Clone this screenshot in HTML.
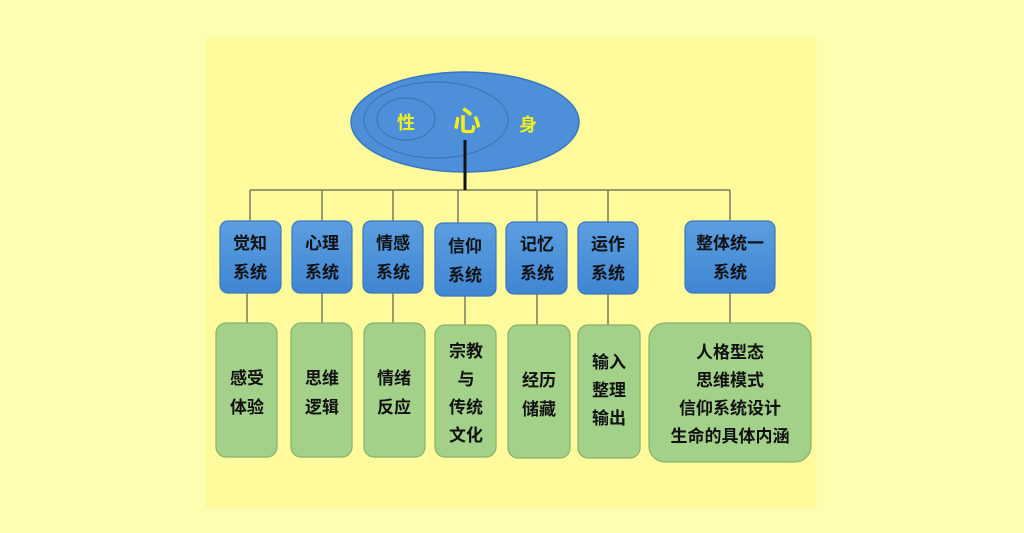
<!DOCTYPE html>
<html><head><meta charset="utf-8"><style>
html,body{margin:0;padding:0;background:#fffeb0;}
svg{display:block}
text{font-family:"Liberation Sans","Noto Sans CJK SC",sans-serif;font-weight:bold;font-size:17px;fill:#111;text-anchor:middle}
</style></head><body>
<svg width="1024" height="533" viewBox="0 0 1024 533" xmlns="http://www.w3.org/2000/svg">
<defs>
<linearGradient id="bl" x1="0" y1="0" x2="0" y2="1"><stop offset="0" stop-color="#5c9ee0"/><stop offset="1" stop-color="#3f86d2"/></linearGradient>
</defs>
<rect width="1024" height="533" fill="#fffeb0"/>
<rect x="205" y="38" width="612" height="470" fill="#fffb9c"/>
<!-- connectors -->
<g stroke="#7a7a60" stroke-width="1.5" fill="none">
<line x1="250" y1="190" x2="730" y2="190"/>
<line x1="250" y1="190" x2="250" y2="222"/><line x1="322" y1="190" x2="322" y2="222"/>
<line x1="393" y1="190" x2="393" y2="222"/><line x1="458" y1="190" x2="458" y2="224"/>
<line x1="537" y1="190" x2="537" y2="222"/><line x1="608" y1="190" x2="608" y2="222"/>
<line x1="730" y1="190" x2="730" y2="222"/>
<line x1="247" y1="292" x2="247" y2="324"/><line x1="322" y1="292" x2="322" y2="324"/>
<line x1="393" y1="292" x2="393" y2="324"/><line x1="465" y1="295" x2="465" y2="326"/>
<line x1="537" y1="292" x2="537" y2="326"/><line x1="608" y1="292" x2="608" y2="326"/>
<line x1="730" y1="292" x2="730" y2="324"/>
</g>
<!-- ellipse -->
<ellipse cx="465" cy="122" rx="114" ry="50" fill="#4d8fd8" stroke="#3b78bd" stroke-width="1.5"/>
<ellipse cx="436" cy="120" rx="72" ry="38" fill="none" stroke="#3a72b0" stroke-width="1"/>
<ellipse cx="406" cy="119" rx="29" ry="21" fill="none" stroke="#3a72b0" stroke-width="1"/>
<line x1="465" y1="140" x2="465" y2="190" stroke="#111" stroke-width="3"/>
<text x="406" y="129" style="fill:#f2ee1e;font-size:18px">性</text>
<text x="467" y="131" style="fill:#f2ee1e;font-size:28px">心</text>
<text x="528" y="131" style="fill:#f2ee1e;font-size:18px">身</text>
<!-- blue boxes -->
<g fill="url(#bl)" stroke="#3a78bf" stroke-width="1.2">
<rect x="220" y="221" width="61" height="72" rx="8"/>
<rect x="292" y="221" width="60" height="72" rx="8"/>
<rect x="363" y="221" width="60" height="72" rx="8"/>
<rect x="435" y="223" width="61" height="73" rx="8"/>
<rect x="506" y="222" width="61" height="72" rx="8"/>
<rect x="578" y="222" width="60" height="72" rx="8"/>
<rect x="685" y="221" width="90" height="72" rx="8"/>
</g>
<text x="250" y="249">觉知</text><text x="250" y="278">系统</text>
<text x="322" y="249">心理</text><text x="322" y="278">系统</text>
<text x="393" y="249">情感</text><text x="393" y="278">系统</text>
<text x="465" y="252">信仰</text><text x="465" y="281">系统</text>
<text x="537" y="250">记忆</text><text x="537" y="279">系统</text>
<text x="608" y="250">运作</text><text x="608" y="279">系统</text>
<text x="730" y="249">整体统一</text><text x="730" y="278">系统</text>
<!-- green boxes -->
<g fill="#a3d18a" stroke="#86b06c" stroke-width="1.2">
<rect x="216" y="323" width="61" height="134" rx="10"/>
<rect x="291" y="323" width="61" height="134" rx="10"/>
<rect x="364" y="323" width="61" height="134" rx="10"/>
<rect x="435" y="325" width="61" height="132" rx="10"/>
<rect x="508" y="325" width="62" height="133" rx="10"/>
<rect x="578" y="325" width="62" height="133" rx="10"/>
<rect x="649" y="323" width="162" height="139" rx="16"/>
</g>
<text x="247" y="384">感受</text><text x="247" y="413">体验</text>
<text x="322" y="384">思维</text><text x="322" y="413">逻辑</text>
<text x="394" y="384">情绪</text><text x="394" y="413">反应</text>
<text x="466" y="357">宗教</text><text x="466" y="385">与</text><text x="466" y="413">传统</text><text x="466" y="441">文化</text>
<text x="539" y="386">经历</text><text x="539" y="415">储藏</text>
<text x="609" y="368">输入</text><text x="609" y="396">整理</text><text x="609" y="424">输出</text>
<text x="730" y="358">人格型态</text><text x="730" y="386">思维模式</text><text x="730" y="414">信仰系统设计</text><text x="730" y="442">生命的具体内涵</text>
</svg>
</body></html>
